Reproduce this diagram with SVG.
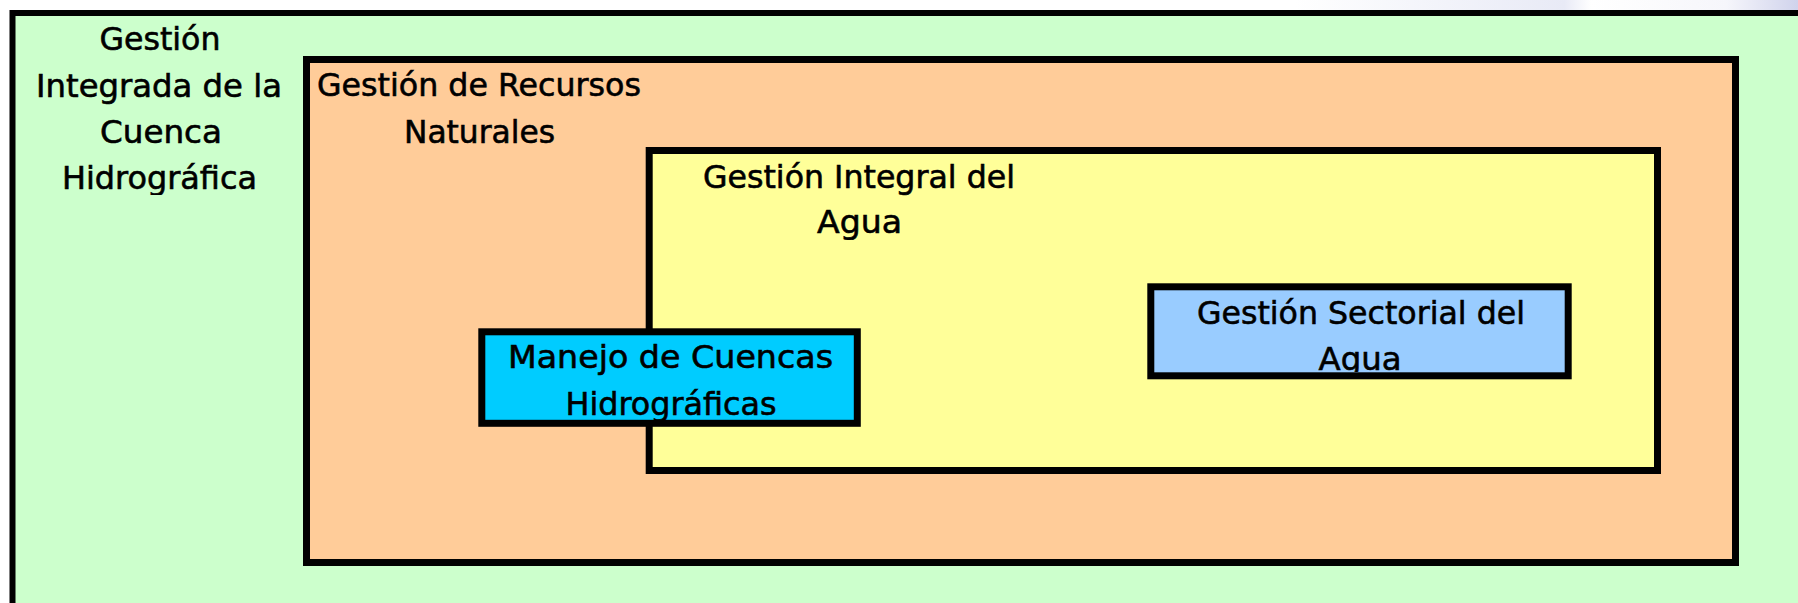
<svg xmlns="http://www.w3.org/2000/svg" width="1798" height="603" viewBox="0 0 1798 603">
  <style>
    .box { stroke: #000000; stroke-width: 7; }
    .lbl { font-family: "DejaVu Sans", "Liberation Sans", sans-serif; font-size: 32px; fill: #000000; stroke: #000000; stroke-width: 0.6; text-anchor: middle; }
  </style>
  <defs>
    <linearGradient id="topbg" x1="0" y1="0" x2="1798" y2="0" gradientUnits="userSpaceOnUse">
      <stop offset="0" stop-color="#ffffff"/>
      <stop offset="0.72" stop-color="#ffffff"/>
      <stop offset="0.87" stop-color="#e8eaf6"/>
      <stop offset="0.885" stop-color="#ffffff"/>
      <stop offset="0.96" stop-color="#f6f6fb"/>
      <stop offset="1" stop-color="#d0d3ec"/>
    </linearGradient>
    <clipPath id="clipOuter"><rect x="15" y="16" width="270" height="179"/></clipPath>
    <clipPath id="clipYellow"><rect x="653" y="155" width="1000" height="85"/></clipPath>
    <clipPath id="clipCyan"><rect x="485" y="335" width="369" height="85"/></clipPath>
    <clipPath id="clipBlue"><rect x="1154" y="290" width="411" height="82"/></clipPath>
  </defs>

  <rect x="0" y="0" width="1798" height="603" fill="#ffffff"/>
  <rect x="0" y="0" width="1798" height="12" fill="url(#topbg)"/>

  <g id="node-cuenca">
    <rect x="12.5" y="13" width="1900" height="700" fill="#CCFFCC" stroke="#000000" stroke-width="6"/>
    <g clip-path="url(#clipOuter)">
      <text class="lbl" x="160" y="50" textLength="121" lengthAdjust="spacingAndGlyphs">Gestión</text>
      <text class="lbl" x="159" y="96.5" textLength="246" lengthAdjust="spacingAndGlyphs">Integrada de la</text>
      <text class="lbl" x="161" y="143" textLength="122" lengthAdjust="spacingAndGlyphs">Cuenca</text>
      <text class="lbl" x="159.5" y="188.5" textLength="195" lengthAdjust="spacingAndGlyphs">Hidrográfica</text>
    </g>
  </g>

  <g id="node-recursos">
    <rect class="box" x="306.5" y="59.5" width="1429" height="503" fill="#FFCC99"/>
    <text class="lbl" x="479" y="96" textLength="324" lengthAdjust="spacingAndGlyphs">Gestión de Recursos</text>
    <text class="lbl" x="479.5" y="143" textLength="151" lengthAdjust="spacingAndGlyphs">Naturales</text>
  </g>

  <g id="node-integral">
    <rect class="box" x="649.2" y="150.5" width="1008.3" height="320" fill="#FFFF99"/>
    <g clip-path="url(#clipYellow)">
      <text class="lbl" x="859" y="188.3" textLength="312" lengthAdjust="spacingAndGlyphs">Gestión Integral del</text>
      <text class="lbl" x="859.5" y="233.3" textLength="85" lengthAdjust="spacingAndGlyphs">Agua</text>
    </g>
  </g>

  <g id="node-manejo">
    <rect class="box" x="481.8" y="331.8" width="375.5" height="91.5" fill="#00CCFF"/>
    <g clip-path="url(#clipCyan)">
      <text class="lbl" x="670.5" y="368" textLength="325" lengthAdjust="spacingAndGlyphs">Manejo de Cuencas</text>
      <text class="lbl" x="671" y="415" textLength="211" lengthAdjust="spacingAndGlyphs">Hidrográficas</text>
    </g>
  </g>

  <g id="node-sectorial">
    <rect class="box" x="1150.8" y="286.8" width="417.4" height="89" fill="#99CCFF"/>
    <g clip-path="url(#clipBlue)">
      <text class="lbl" x="1361" y="324" textLength="328" lengthAdjust="spacingAndGlyphs">Gestión Sectorial del</text>
      <text class="lbl" x="1360" y="370" textLength="83" lengthAdjust="spacingAndGlyphs">Agua</text>
    </g>
  </g>

  <g id="connectors"/>
</svg>
